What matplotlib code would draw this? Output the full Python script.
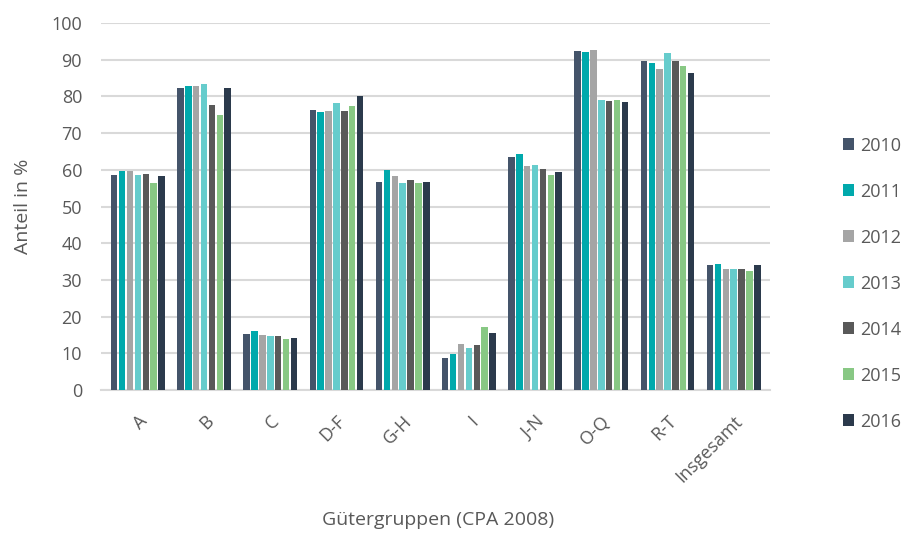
import numpy as np
import matplotlib.pyplot as plt

plt.rcParams['font.family'] = ['Open Sans', 'DejaVu Sans']

categories = ["A", "B", "C", "D-F", "G-H", "I", "J-N", "O-Q", "R-T", "Insgesamt"]
years = ["2010", "2011", "2012", "2013", "2014", "2015", "2016"]

v2010 = [58.5, 82.3, 15.3, 76.3, 56.7, 8.6, 63.5, 92.4, 89.6, 34.1]
v2011 = [59.6, 82.9, 16.0, 75.7, 60.0, 9.8, 64.2, 92.0, 89.2, 34.4]
v2012 = [59.6, 82.9, 15.0, 76.0, 58.3, 12.5, 61.0, 92.7, 87.6, 33.0]
v2013 = [58.5, 83.4, 14.6, 78.1, 56.4, 11.4, 61.3, 79.1, 91.7, 33.0]
v2014 = [58.9, 77.7, 14.6, 76.0, 57.2, 12.2, 60.3, 78.8, 89.6, 33.0]
v2015 = [56.4, 75.0, 13.9, 77.4, 56.4, 17.1, 58.5, 79.1, 88.2, 32.3]
v2016 = [58.2, 82.3, 14.2, 80.1, 56.7, 15.6, 59.3, 78.5, 86.5, 34.0]
series = [v2010, v2011, v2012, v2013, v2014, v2015, v2016]

colors = ["#44546A", "#00A9AC", "#A5A5A5", "#66CCCC", "#595959", "#88C884", "#2B3A4C"]
text_col = "#595959"

fig = plt.figure(figsize=(9.06, 5.35), dpi=100)
ax = fig.add_axes([0.112, 0.271, 0.738, 0.686])

x = np.arange(len(categories))
step = 0.119
for i, (yr, vals) in enumerate(zip(years, series)):
    ax.bar(x + (i - 3) * step, vals, width=step * 0.82, color=colors[i], label=yr, zorder=3)

ax.set_xlim(-0.55, len(categories) - 0.45)
ax.set_ylim(0, 100)
ax.set_yticks(range(0, 101, 10))
ax.yaxis.grid(True, color="#D9D9D9", linewidth=1.5, zorder=0)
for s in ["top", "right", "left"]:
    ax.spines[s].set_visible(False)
ax.spines["bottom"].set_color("#D9D9D9")
ax.spines["bottom"].set_linewidth(1.5)
ax.tick_params(axis="both", length=0, colors=text_col, labelsize=13)
ax.tick_params(axis="y", pad=14)
ax.set_xticks(x)
ax.set_xticklabels(categories, rotation=45, ha="right", rotation_mode="anchor")
ax.tick_params(axis="x", pad=16)

ax.set_ylabel("Anteil in %", color=text_col, fontsize=14, labelpad=14)
fig.text(0.483, 0.028, "Gütergruppen (CPA 2008)", color=text_col, fontsize=14,
         ha="center", va="center")

leg = fig.legend(loc="center left", frameon=False,
                 fontsize=13, labelspacing=1.55, handlelength=0.65, handleheight=0.65,
                 handletextpad=0.35, labelcolor=text_col)
leg.set_bbox_to_anchor((0.912, 0.47), transform=fig.transFigure)

fig.savefig("out.png", dpi=100)
